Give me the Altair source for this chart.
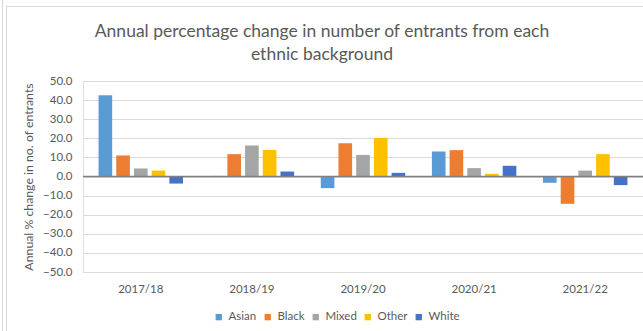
import altair as alt
import pandas as pd

years = ["2017/18", "2018/19", "2019/20", "2020/21", "2021/22"]
groups = ["Asian", "Black", "Mixed", "Other", "White"]
asian = [42.5, 0.3, -6.1, 13.1, -3.3]
black = [11.0, 11.7, 17.4, 13.8, -14.3]
mixed = [4.2, 16.2, 11.3, 4.4, 3.1]
other = [3.1, 13.9, 20.2, 1.4, 11.7]
white = [-3.7, 2.6, 1.9, 5.6, -4.5]
colors = ["#5B9BD5", "#ED7D31", "#A5A5A5", "#FFC000", "#4472C4"]
y_ticks = [-50, -40, -30, -20, -10, 0, 10, 20, 30, 40, 50]

series = dict(zip(groups, [asian, black, mixed, other, white]))
rows = []
for g in groups:
    for y, v in zip(years, series[g]):
        rows.append({"year": y, "group": g, "value": v})
df = pd.DataFrame(rows)

FONT = "Lato"
TXT = "#595959"
y_scale = alt.Scale(domain=[-50, 50], nice=False)
y_axis = alt.Axis(title="Annual % change in no. of entrants",
                  values=y_ticks, tickCount=len(y_ticks), format=".1f",
                  labelOverlap=False,
                  domain=False, ticks=False, labelPadding=11,
                  labelFontSize=11.5, labelColor=TXT, labelFont=FONT,
                  titleFontSize=12.3, titleColor=TXT, titleFont=FONT,
                  titleFontWeight="normal", titlePadding=7,
                  gridColor="#d9d9d9", gridWidth=1)

bars = alt.Chart(df).mark_bar().encode(
    x=alt.X("year:N", sort=years,
            scale=alt.Scale(paddingInner=0.24, paddingOuter=0.14),
            axis=alt.Axis(title=None, labelAngle=0, domain=False, ticks=False,
                          grid=False, labelPadding=11, labelFontSize=11.5,
                          labelColor=TXT, labelFont=FONT)),
    xOffset=alt.XOffset("group:N", sort=groups,
                        scale=alt.Scale(paddingInner=0.23, paddingOuter=0)),
    y=alt.Y("value:Q", scale=y_scale, axis=y_axis),
    color=alt.Color("group:N", sort=groups,
                    scale=alt.Scale(domain=groups, range=colors),
                    legend=alt.Legend(title=None, orient="none", direction="horizontal",
                                      legendX=130, legendY=230,
                                      symbolType="square", symbolSize=40,
                                      symbolStrokeWidth=0, labelFontSize=11.5,
                                      labelColor=TXT, labelFont=FONT,
                                      labelOffset=4, columnPadding=5)),
)

one = alt.Data(values=[{}])

zero_line = alt.Chart(one).mark_rule(color="#7f7f7f", strokeWidth=1.6).encode(
    y=alt.datum(0, scale=y_scale, axis=y_axis),
    x=alt.value(0), x2=alt.value(560),
)

# light frame around the chart area
frame_outer = alt.Chart(one).mark_rule(color="#d9d9d9", strokeWidth=1).encode(
    x=alt.value(-80.5), y=alt.value(-81), y2=alt.value(250))
frame_inner = alt.Chart(one).mark_rule(color="#d9d9d9", strokeWidth=1).encode(
    x=alt.value(-76.5), y=alt.value(-75.5), y2=alt.value(250))
frame_top = alt.Chart(one).mark_rule(color="#d9d9d9", strokeWidth=1).encode(
    x=alt.value(-76.5), x2=alt.value(560), y=alt.value(-74.5))

chart = alt.layer(frame_outer, frame_inner, frame_top, bars, zero_line).properties(
    width=560, height=191,
    title=alt.TitleParams(
        ["Annual percentage change in number of entrants from each", "ethnic background"],
        anchor="middle", frame="group", dx=-41, dy=78, fontSize=17.5, font=FONT,
        fontWeight="normal", color=TXT, lineHeight=23, offset=14),
    padding={"left": 83, "top": 81, "right": 0, "bottom": 59},
    autosize=alt.AutoSizeParams(type="none"),
).configure_view(stroke=None).configure(background="white")

chart.save("out.html", embed_options={"renderer": "svg", "actions": False})
